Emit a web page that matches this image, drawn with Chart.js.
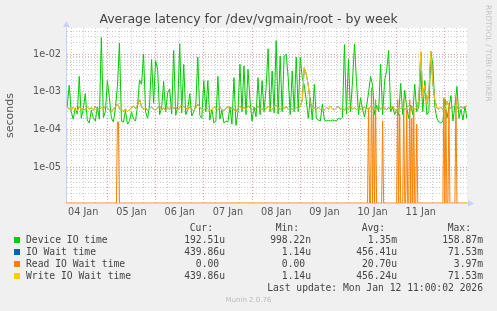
<!DOCTYPE html>
<html>
<head>
<meta charset="utf-8">
<script src="https://cdn.jsdelivr.net/npm/chart.js@4/dist/chart.umd.min.js"></script>
<style>
  body { margin: 0; background: #f0f0f0; }
  #wrap { position: relative; width: 497px; height: 311px; overflow: hidden; }
  #c { position: absolute; left: 0; top: 0; }
  #title { position: absolute; left: 0; top: 11px; width: 497px; text-align: center;
           font: 12.5px "DejaVu Sans"; line-height: 15px; color: #444; white-space: pre; }
  #rrd { position: absolute; left: 493px; top: 5px; transform: rotate(90deg); transform-origin: 0 0;
         font: 7.5px "DejaVu Sans"; line-height: 9px; color: #c4c4c4; white-space: pre; }
  #munin { position: absolute; left: 0; top: 295px; width: 497px; text-align: center;
           font: 7px "DejaVu Sans"; line-height: 10px; color: #bbb; }
  .lg { position: absolute; white-space: pre; font: 9.7px "DejaVu Sans Mono"; line-height: 12px; color: #444; }
  .sw { position: absolute; width: 6px; height: 6px; }
</style>
</head>
<body>
<div id="wrap">
  <canvas id="c" width="497" height="311"></canvas>
  <div id="title">Average latency for /dev/vgmain/root - by week</div>
  <div id="rrd">RRDTOOL / TOBI OETIKER</div>
  <div id="munin">Munin 2.0.76</div>
</div>
<script>
// hours counted from 04 Jan 00:00, one sample per hour (h = 4 .. 203)
const firstHour = 4;

// Device IO time, microseconds
const deviceUs = [
  420, 1500, 300, 190, 380, 260, 2600, 200, 350, 900,
  180, 150, 330, 200, 170, 400, 190, 28000, 210, 300,
  2000, 700, 200, 160, 380, 1400, 20000, 170, 160, 320,
  140, 170, 300, 190, 170, 420, 2100, 1600, 10000, 300,
  200, 450, 7300, 500, 6800, 4000, 250, 380, 1900, 300,
  950, 1200, 260, 12600, 240, 400, 19000, 280, 5400, 250,
  350, 900, 230, 300, 450, 8400, 240, 200, 2000, 300,
  2000, 180, 350, 150, 170, 2600, 190, 330, 150, 170,
  160, 400, 140, 2400, 130, 300, 5400, 300, 4900, 250,
  4000, 580, 170, 400, 220, 2400, 250, 2000, 300, 1300,
  14000, 300, 3600, 280, 23000, 260, 9000, 300, 9000, 10000,
  2400, 250, 3600, 300, 8400, 300, 8400, 2400, 1500, 600,
  200, 700, 180, 1600, 200, 180, 170, 470, 180, 170,
  175, 170, 180, 175, 170, 200, 190, 210, 18000, 260,
  7300, 300, 1900, 19000, 1900, 250, 700, 350, 220, 420,
  950, 2600, 1500, 250, 450, 300, 5400, 250, 2000, 3700,
  12600, 300, 400, 250, 350, 240, 1700, 250, 1100, 380,
  200, 450, 250, 1600, 300, 400, 3600, 300, 2000, 250,
  300, 11000, 5400, 400, 200, 160, 150, 170, 650, 200,
  380, 800, 170, 450, 1400, 200, 350, 180, 420, 193
];

// Write IO Wait time, microseconds
const writeUs = [
  400, 360, 330, 390, 350, 310, 420, 340, 370, 330,
  400, 350, 380, 320, 410, 360, 340, 390, 350, 420,
  370, 330, 300, 350, 400, 480, 360, 330, 310, 350,
  300, 340, 380, 420, 360, 450, 650, 400, 350, 380,
  320, 360, 410, 350, 330, 380, 420, 340, 370, 330,
  390, 350, 430, 360, 400, 340, 380, 460, 410, 370,
  340, 390, 350, 320, 380, 470, 400, 350, 330, 380,
  360, 310, 350, 400, 370, 330, 390, 350, 320, 360,
  410, 340, 380, 350, 300, 370, 420, 360, 390, 340,
  430, 380, 350, 320, 370, 410, 360, 340, 390, 350,
  420, 370, 330, 400, 450, 380, 350, 400, 360, 420,
  340, 380, 350, 330, 390, 360, 420, 600, 4400, 3000,
  1500, 500, 420, 380, 350, 400, 340, 370, 330, 390,
  350, 420, 360, 340, 380, 410, 350, 370, 330, 400,
  360, 420, 350, 380, 340, 390, 360, 330, 400, 370,
  350, 420, 380, 340, 360, 390, 350, 410, 370, 340,
  380, 360, 420, 350, 330, 400, 360, 390, 340, 380,
  450, 360, 400, 350, 380, 600, 11600, 700, 1500, 500,
  900, 12000, 1800, 600, 380, 350, 400, 340, 380, 560,
  420, 360, 400, 450, 380, 350, 410, 370, 400, 440
];

// IO Wait time is hidden under the write line everywhere in the picture
const ioWaitUs = writeUs;

// Read IO Wait time: 30-minute samples, zero except at these times
const readStartHour = 3.5;
const readEndHour = 203;
const readSpikeHours = [29, 29.5, 154, 155.5, 156.5, 157.5, 161, 168.5, 169.5, 171.5, 173, 174.5, 175.5, 176.5, 178, 191.5, 192.5, 194, 197.5];
const readSpikeUs = [160, 160, 380, 1300, 380, 630, 170, 630, 260, 630, 340, 630, 200, 380, 140, 700, 340, 500, 700];

const dayLabels = ['04 Jan', '05 Jan', '06 Jan', '07 Jan', '08 Jan', '09 Jan', '10 Jan', '11 Jan'];
const yDecades = [1e-5, 1e-4, 1e-3, 1e-2];
const yDecadeLabels = ['1e-05', '1e-04', '1e-03', '1e-02'];

const seriesNames = ['Device IO time', 'IO Wait time', 'Read IO Wait time', 'Write IO Wait time'];
const seriesColors = ['#00cc00', '#0066b3', '#ff8000', '#ffcc00'];
const curText = ['192.51u', '439.86u', '0.00 ', '439.86u'];
const minText = ['998.22n', '1.14u', '0.00 ', '1.14u'];
const avgText = ['1.35m', '456.41u', '20.70u', '456.24u'];
const maxText = ['158.87m', '71.53m', '3.97m', '71.53m'];
const lastUpdate = 'Last update: Mon Jan 12 11:00:02 2026';

const Y_MIN = 1.13e-6, Y_MAX = 0.0499;
const X_MIN = 3.4, X_MAX = 203;

const hourly = us => us.map((v, i) => ({ x: firstHour + i, y: v * 1e-6 }));
const readPoints = [];
for (let t = readStartHour; t <= readEndHour; t += 0.5) {
  const k = readSpikeHours.indexOf(t);
  readPoints.push({ x: t, y: k >= 0 ? readSpikeUs[k] * 1e-6 : Y_MIN });
}

const yTicks = [];
for (let e = -6; e <= -2; e++) {
  for (let m = 1; m <= 9; m++) {
    const v = m * Math.pow(10, e);
    if (v >= Y_MIN && v <= Y_MAX) yTicks.push({ value: v, major: m === 1 });
  }
}
const xTicks = [];
for (let h = 6; h < X_MAX; h += 6) xTicks.push({ value: h, major: h % 24 === 0 });

const majorGrid = 'rgba(222,120,120,0.75)';
const minorGrid = 'rgba(170,170,170,0.6)';
const axisColor = '#c9d0f4';

const plotBg = {
  id: 'plotBg',
  beforeDraw(c) {
    const { ctx, chartArea: a } = c;
    ctx.save();
    ctx.fillStyle = '#ffffff';
    ctx.fillRect(a.left, a.top, a.right - a.left, a.bottom - a.top);
    ctx.restore();
  }
};

const arrows = {
  id: 'arrows',
  afterDraw(c) {
    const { ctx, chartArea: a } = c;
    ctx.save();
    ctx.fillStyle = axisColor;
    ctx.beginPath();
    ctx.moveTo(a.left - 3, a.top - 1);
    ctx.lineTo(a.left + 3.5, a.top - 1);
    ctx.lineTo(a.left + 0.5, a.top - 7);
    ctx.fill();
    ctx.beginPath();
    ctx.moveTo(a.right + 1, a.bottom - 3);
    ctx.lineTo(a.right + 1, a.bottom + 3.5);
    ctx.lineTo(a.right + 7, a.bottom + 0.5);
    ctx.fill();
    ctx.restore();
  }
};

new Chart(document.getElementById('c'), {
  type: 'line',
  data: {
    datasets: [
      { label: seriesNames[0], data: hourly(deviceUs), borderColor: seriesColors[0], order: 4 },
      { label: seriesNames[1], data: hourly(ioWaitUs), borderColor: seriesColors[1], order: 3 },
      { label: seriesNames[2], data: readPoints, borderColor: seriesColors[2], order: 2 },
      { label: seriesNames[3], data: hourly(writeUs), borderColor: seriesColors[3], order: 1 }
    ]
  },
  options: {
    responsive: false,
    animation: false,
    elements: { line: { borderWidth: 1, tension: 0 }, point: { radius: 0 } },
    layout: { padding: { left: 0, right: 30, top: 28, bottom: 88 } },
    plugins: { legend: { display: false }, tooltip: { enabled: false } },
    scales: {
      x: {
        type: 'linear', min: X_MIN, max: X_MAX, bounds: 'data',
        afterBuildTicks: s => { s.ticks = xTicks.map(t => ({ ...t })); },
        afterFit: s => { s.height = 20; },
        ticks: {
          autoSkip: false, maxRotation: 0, padding: 4, color: '#555',
          font: { family: 'DejaVu Sans', size: 9.7 },
          callback: v => (v % 24 === 12 ? dayLabels[(v - 12) / 24] : '')
        },
        grid: {
          drawTicks: false,
          color: ctx => (ctx.tick && ctx.tick.value % 24 === 0 ? majorGrid : minorGrid)
        },
        border: { display: true, color: axisColor, dash: [1, 2] }
      },
      y: {
        type: 'logarithmic', min: Y_MIN, max: Y_MAX, bounds: 'data',
        afterBuildTicks: s => { s.ticks = yTicks.map(t => ({ ...t })); },
        afterFit: s => { s.width = 66; },
        title: {
          display: true, text: 'seconds', color: '#555',
          font: { family: 'DejaVu Sans', size: 11 }, padding: { top: 4, bottom: 0 }
        },
        ticks: {
          autoSkip: false, padding: 5, color: '#555',
          font: { family: 'DejaVu Sans', size: 9.7 },
          callback: v => {
            const k = yDecades.findIndex(d => Math.abs(v / d - 1) < 1e-6);
            return k >= 0 ? yDecadeLabels[k] : '';
          }
        },
        grid: {
          drawTicks: false,
          color: ctx => (ctx.tick && ctx.tick.major ? majorGrid : minorGrid)
        },
        border: { display: true, color: axisColor, dash: [1, 2] }
      }
    }
  },
  plugins: [plotBg, arrows]
});

// legend table under the plot
const wrap = document.getElementById('wrap');
function cell(text, top, opts) {
  const d = document.createElement('div');
  d.className = 'lg';
  d.textContent = text;
  d.style.top = top + 'px';
  if (opts.left !== undefined) d.style.left = opts.left + 'px';
  if (opts.right !== undefined) { d.style.right = (497 - opts.right) + 'px'; d.style.textAlign = 'right'; }
  wrap.appendChild(d);
}
const colRight = [225, 311, 397, 483];
['Cur:', 'Min:', 'Avg:', 'Max:'].forEach((h, j) => cell(h, 222, { right: colRight[j] - 12 }));
seriesNames.forEach((name, i) => {
  const top = 234 + i * 12;
  const sw = document.createElement('div');
  sw.className = 'sw';
  sw.style.left = '14px';
  sw.style.top = (top + 3) + 'px';
  sw.style.background = seriesColors[i];
  wrap.appendChild(sw);
  cell(name, top, { left: 26 });
  [curText, minText, avgText, maxText].forEach((col, j) => cell(col[i], top, { right: colRight[j] }));
});
cell(lastUpdate, 282, { right: 483 });
</script>
</body>
</html>
